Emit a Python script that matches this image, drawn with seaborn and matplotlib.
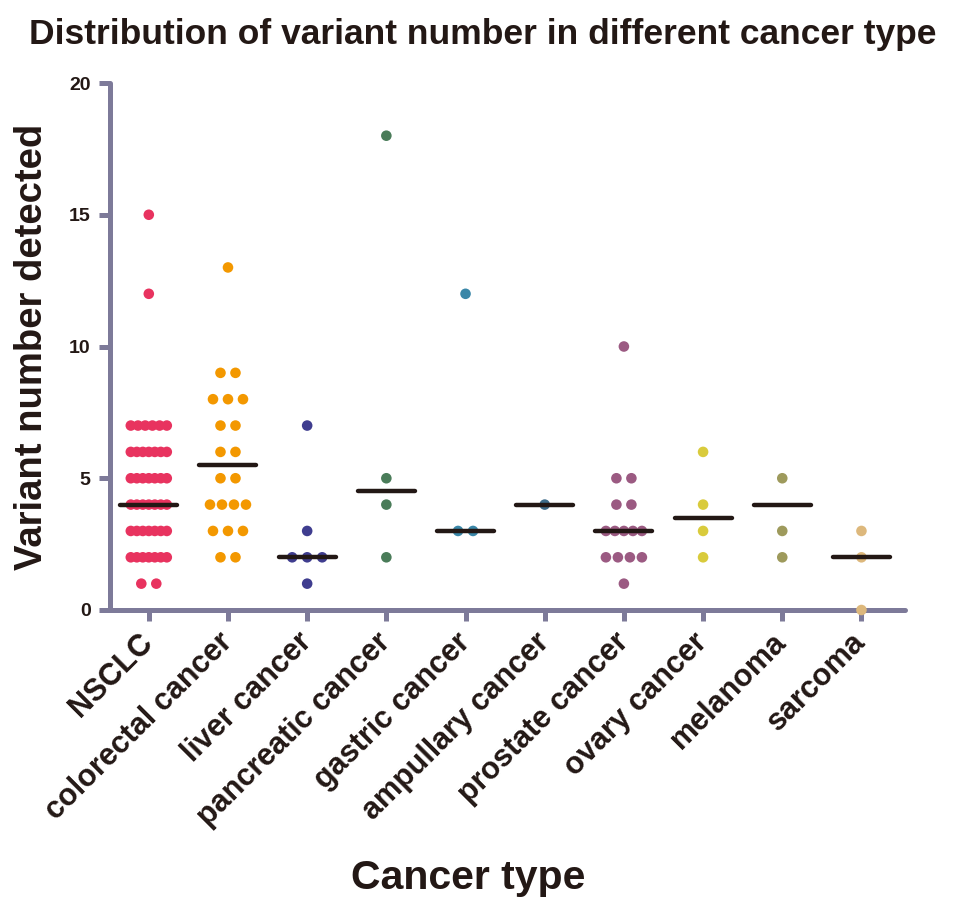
import numpy as np
import pandas as pd
import matplotlib.pyplot as plt
import seaborn as sns

# -----------------------------
# Data
# -----------------------------
categories = ["NSCLC", "colorectal cancer", "liver cancer", "pancreatic cancer",
              "gastric cancer", "ampullary cancer", "prostate cancer",
              "ovary cancer", "melanoma", "sarcoma"]

nsclc = [15, 12,
         7, 7, 7, 7, 7, 7,
         6, 6, 6, 6, 6, 6, 6,
         5, 5, 5, 5, 5, 5, 5,
         4, 4, 4, 4, 4, 4, 4,
         3, 3, 3, 3, 3, 3, 3,
         2, 2, 2, 2, 2, 2, 2,
         1, 1]
colorectal = [13, 9, 9, 8, 8, 8, 7, 7, 6, 6, 5, 5, 4, 4, 4, 4, 3, 3, 3, 2, 2]
liver = [7, 3, 2, 2, 2, 1]
pancreatic = [18, 5, 4, 2]
gastric = [12, 3, 3]
ampullary = [4]
prostate = [10, 5, 5, 4, 4, 3, 3, 3, 3, 3, 2, 2, 2, 2, 1]
ovary = [6, 4, 3, 2]
melanoma = [5, 3, 2]
sarcoma = [3, 2, 0]

# center line drawn for each group (as shown in the figure)
center_line = [4, 5.5, 2, 4.5, 3, 4, 3, 3.5, 4, 2]

colors = ["#E8335F", "#F39800", "#3F3D8F", "#4A7C59", "#3A87A8",
          "#3E6C8A", "#9B5A82", "#D9CB3C", "#9E9A5C", "#DDB87C"]

# -----------------------------
# Build long table + horizontal spread of tied values
# -----------------------------
groups = [nsclc, colorectal, liver, pancreatic, gastric, ampullary,
          prostate, ovary, melanoma, sarcoma]
PX_PER_CAT = 79.2

rows = []
for i, (cat, vals) in enumerate(zip(categories, groups)):
    for v in sorted(set(vals), reverse=True):
        n = vals.count(v)
        step = 15 if n < 2 else min(15, 36 / (n - 1))
        offs = (np.arange(n) - (n - 1) / 2) * step / PX_PER_CAT
        for o in offs:
            rows.append({"category": cat, "value": v, "xpos": i + o})
df = pd.DataFrame(rows)

# -----------------------------
# Plot
# -----------------------------
sns.set_style("ticks")
plt.rcParams["font.family"] = ["Liberation Sans", "DejaVu Sans"]
plt.rcParams["font.weight"] = "bold"

axis_col = "#7D7A99"
text_col = "#231815"
fig = plt.figure(figsize=(9.56, 8.99), dpi=100)
ax = fig.add_axes([110 / 956, 289 / 899, 795 / 956, 527 / 899])

sns.scatterplot(data=df, x="xpos", y="value", hue="category",
                palette=dict(zip(categories, colors)), s=58,
                edgecolor="none", legend=False, clip_on=False, zorder=3, ax=ax)

ax.hlines(center_line, np.arange(len(categories)) - 0.36,
          np.arange(len(categories)) + 0.36, color=text_col,
          linewidth=3.2, capstyle="round", zorder=4)

ax.set_xlim(-0.49, 9.55)
ax.set_ylim(0, 20)
ax.set_yticks([0, 5, 10, 15, 20])
ax.set_xticks(range(len(categories)))
ax.set_xticklabels(categories, rotation=45, ha="right", va="center",
                   rotation_mode="anchor", fontsize=22, fontweight="bold",
                   color=text_col)
ax.tick_params(axis="y", labelsize=14, labelcolor=text_col)
ax.tick_params(axis="both", length=8, width=3.6, color=axis_col, pad=6)
ax.tick_params(axis="x", pad=12)
for lab in ax.get_yticklabels():
    lab.set_fontweight("bold")

sns.despine(ax=ax)
for side in ["left", "bottom"]:
    ax.spines[side].set_color(axis_col)
    ax.spines[side].set_linewidth(3.6)
    ax.spines[side].set_capstyle("round")

ax.set_xlabel("Cancer type", fontsize=29.5, fontweight="bold", color=text_col)
ax.set_ylabel("Variant number detected", fontsize=27.5, fontweight="bold",
              color=text_col)
ax.xaxis.set_label_coords(0.45, -0.472)
ax.yaxis.set_label_coords(-0.075, 0.5)

fig.text(0.505, 0.962, "Distribution of variant number in different cancer type",
         ha="center", va="center", fontsize=25.5, fontweight="bold",
         color=text_col)

fig.savefig("out.png", dpi=100)
